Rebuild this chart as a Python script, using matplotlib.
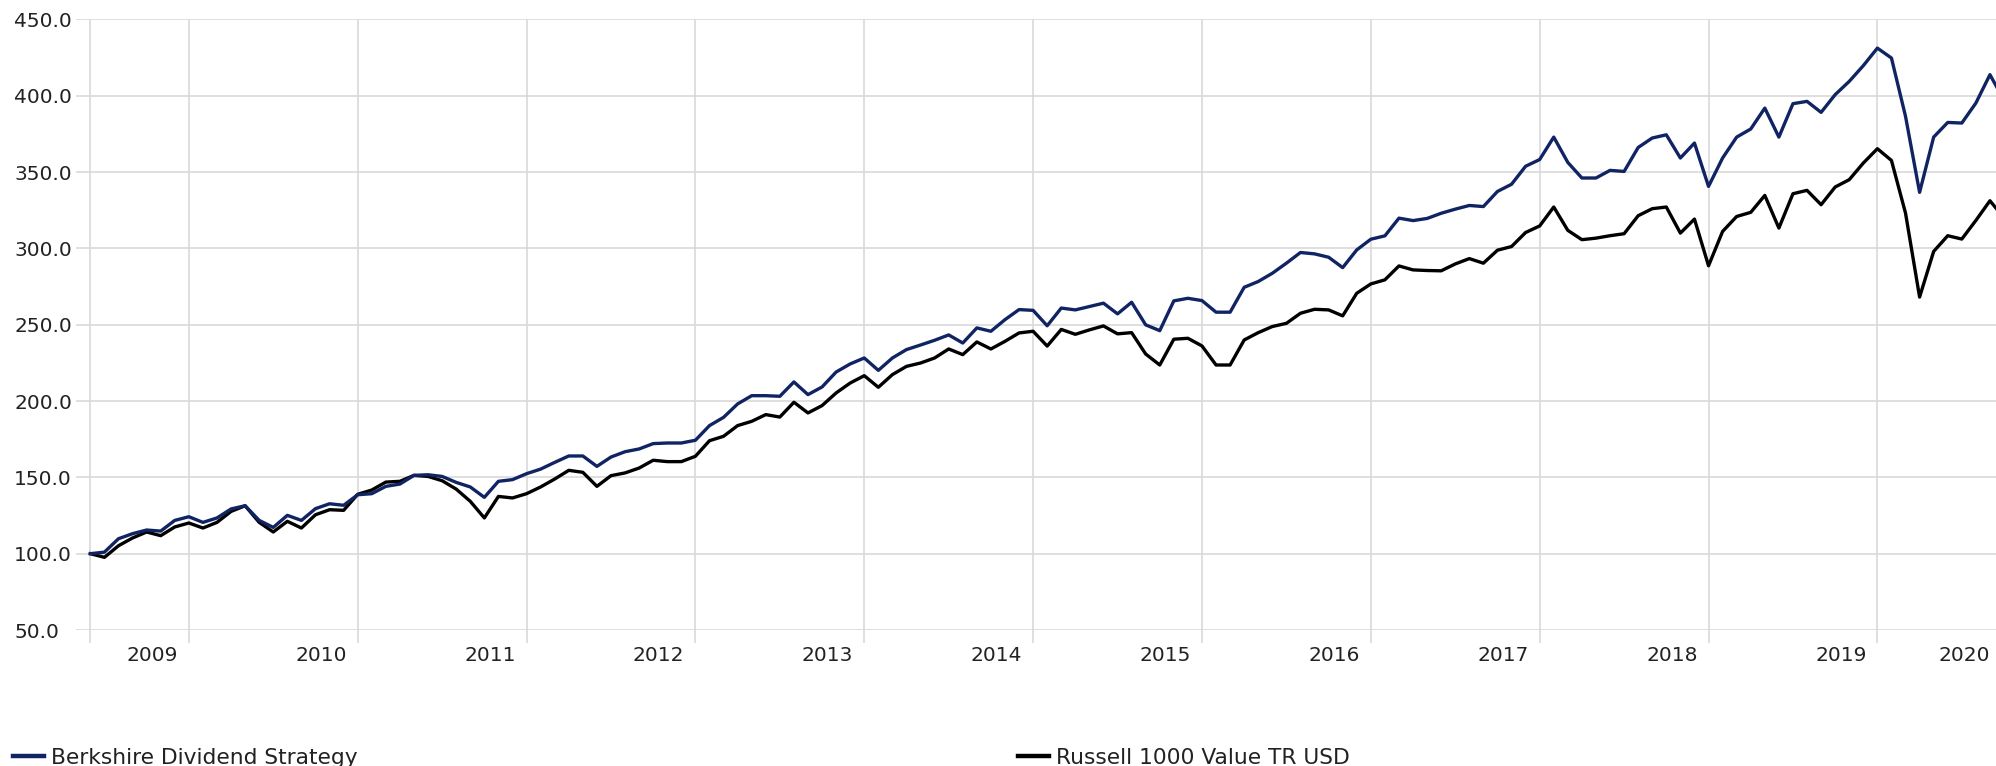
import numpy as np
import matplotlib
matplotlib.use('Agg')
import matplotlib.pyplot as plt

# Monthly growth of 100 (first point = 100)
berkshire = [
    100.0, 101.0, 109.8, 113.1, 115.5, 114.8, 121.8, 124.2, 120.5, 123.4, 129.3, 131.4,
    121.8, 117.2, 125.1, 121.8, 129.5, 132.7, 131.7, 138.6, 139.3, 144.1, 145.6, 151.3,
    151.7, 150.6, 146.7, 143.7, 136.9, 147.4, 148.5, 152.4, 155.4, 159.8, 164.0, 164.0,
    157.2, 163.3, 166.8, 168.6, 172.1, 172.5, 172.5, 174.3, 183.9, 189.3, 198.1, 203.5,
    203.5, 203.1, 212.5, 204.2, 209.2, 219.0, 224.3, 228.2, 220.1, 228.2, 233.7, 236.7,
    239.8, 243.3, 238.0, 247.9, 245.7, 253.3, 259.9, 259.4, 249.3, 260.9, 259.7, 261.9,
    264.1, 257.1, 264.7, 249.9, 246.1, 265.6, 267.3, 265.8, 258.2, 258.2, 274.5, 278.3,
    283.7, 290.3, 297.3, 296.4, 294.2, 287.4, 299.0, 306.0, 308.2, 319.8, 318.2, 319.6,
    323.0, 325.7, 328.1, 327.4, 337.3, 342.0, 353.8, 358.2, 372.9, 356.3, 346.1, 346.1,
    351.1, 350.4, 366.1, 372.3, 374.4, 359.2, 369.0, 340.6, 359.2, 372.9, 378.2, 391.9,
    372.9, 394.8, 396.3, 389.1, 400.7, 409.4, 419.7, 431.2, 424.7, 386.5, 336.7, 372.9,
    382.5, 382.1, 395.2, 413.8, 397.0,
]
russell = [
    100.0, 97.6, 105.2, 110.3, 114.2, 111.8, 117.5, 120.1, 116.8, 120.5, 127.7, 131.4,
    120.5, 114.2, 121.2, 116.8, 125.5, 128.8, 128.4, 138.9, 141.7, 146.9, 147.4, 151.3,
    150.6, 147.8, 142.3, 134.3, 123.4, 137.5, 136.5, 139.3, 143.7, 148.9, 154.6, 153.3,
    144.1, 151.1, 152.9, 156.1, 161.2, 160.3, 160.3, 163.8, 174.0, 176.9, 183.9, 186.7,
    191.1, 189.5, 199.2, 192.2, 197.0, 205.3, 211.8, 216.6, 209.0, 217.3, 222.7, 224.9,
    228.2, 234.1, 230.4, 238.7, 234.1, 239.1, 244.6, 245.7, 236.0, 246.9, 243.7, 246.6,
    249.2, 244.0, 244.8, 230.8, 223.6, 240.5, 241.1, 236.1, 223.6, 223.6, 240.0, 244.8,
    248.8, 250.9, 257.5, 260.1, 259.7, 255.8, 270.6, 276.7, 279.4, 288.5, 285.9, 285.5,
    285.3, 289.8, 293.3, 290.3, 298.8, 301.2, 310.4, 314.7, 327.1, 311.8, 305.7, 306.7,
    308.3, 309.6, 321.4, 326.0, 327.1, 310.0, 319.2, 288.6, 311.1, 320.9, 323.6, 334.7,
    313.3, 335.8, 338.0, 328.6, 340.2, 345.0, 355.9, 365.3, 357.6, 323.1, 268.1, 298.0,
    308.3, 306.1, 318.3, 331.2, 320.0,
]

years = ['2009', '2010', '2011', '2012', '2013', '2014', '2015', '2016', '2017', '2018', '2019', '2020']
year_start = [7, 19, 31, 43, 55, 67, 79, 91, 103, 115, 127, 139]  # month index of year gridlines

months = np.arange(len(berkshire))

W, H, DPI = 1996, 766, 100
px = 72 / DPI  # points per pixel
fig = plt.figure(figsize=(W / DPI, H / DPI), dpi=DPI)
ax = fig.add_axes([76 / W, 1 - 630 / H, 1 - 76 / W, (630 - 19.4) / H])

grid_col = '#d9d9d9'
text_col = '#222222'
ax.plot(months, russell, color='black', lw=2.4, label='Russell 1000 Value TR USD', zorder=3)
ax.plot(months, berkshire, color='#102463', lw=2.4, label='Berkshire Dividend Strategy', zorder=4)

for s in ax.spines.values():
    s.set_visible(False)

# y axis: left aligned labels at the figure edge
ax.set_yticks(np.arange(50, 451, 50))
ax.set_yticklabels(['%.1f' % v for v in np.arange(50, 451, 50)])
ax.tick_params(axis='y', length=0, pad=62 * px, labelsize=14.5, labelcolor=text_col)
for lab in ax.get_yticklabels():
    lab.set_horizontalalignment('left')
ax.yaxis.grid(True, color=grid_col, lw=1.2)

# x axis: gridlines at the start and each year, year labels sit just left of the gridline
x_right = 135.43
ax.set_xticks([0] + year_start)
ax.set_xticklabels([])
ax.tick_params(axis='x', which='major', length=13 * px, width=1.2, color=grid_col)
label_pos = [min(p - 0.78, x_right - 0.45) for p in year_start]
ax.set_xticks(label_pos, minor=True)
ax.set_xticklabels(years, minor=True)
ax.tick_params(axis='x', which='minor', length=0, pad=13 * px + 2,
               labelsize=14.5, labelcolor=text_col)
for lab in ax.get_xticklabels(minor=True):
    lab.set_horizontalalignment('right')
ax.xaxis.grid(True, which='major', color=grid_col, lw=1.2)
ax.set_axisbelow(True)

ax.set_ylim(50, 450)
ax.set_xlim(-1.02, x_right)

# legend at the bottom, two entries far apart
handles, labels = ax.get_legend_handles_labels()
kw = dict(frameon=False, fontsize=15.7, handlelength=1.4, handletextpad=0.33,
          borderaxespad=0, borderpad=0, loc='center left')
leg1 = fig.legend([handles[1]], [labels[1]], bbox_to_anchor=(13 / W, 1 - 758 / H), **kw)
leg2 = fig.legend([handles[0]], [labels[0]], bbox_to_anchor=(1018 / W, 1 - 758 / H), **kw)
for leg in (leg1, leg2):
    for ln in leg.get_lines():
        ln.set_linewidth(3.2)
    for t in leg.get_texts():
        t.set_color(text_col)

fig.savefig('out.png', dpi=DPI)
